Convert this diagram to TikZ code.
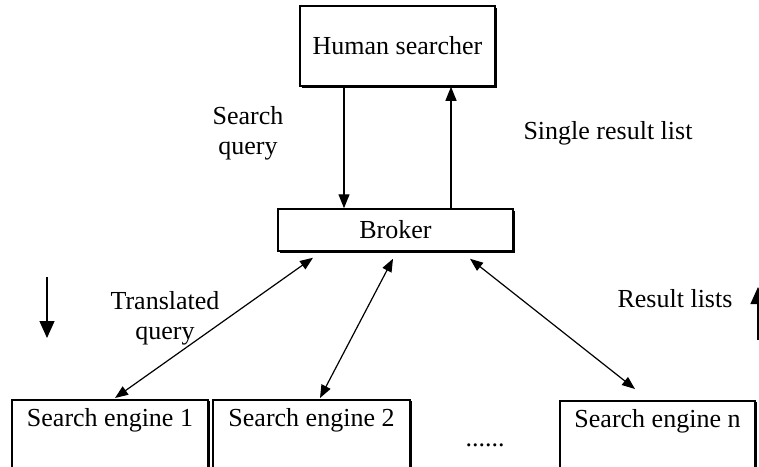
\documentclass[tikz,border=0pt]{standalone}
\usepackage{fontspec}
\setmainfont{Liberation Serif}
\usetikzlibrary{arrows.meta, calc, positioning, shadows}

\begin{document}
\begin{tikzpicture}[x=0.5pt, y=-0.5pt, font=\fontsize{13}{15}\selectfont, line width=0.6pt,
 box/.style={draw, fill=white, line width=0.75pt,
   drop shadow={shadow xshift=0.8pt, shadow yshift=-0.8pt, fill=black, opacity=1}},
 engine/.style={box, anchor=north, minimum width=98pt, inner ysep=4.5pt, text height=9pt, text depth=45pt},
 link/.style={-{Triangle[length=7pt,width=5.5pt]}},
 both/.style={{Triangle[length=6.5pt,width=5pt]}-{Triangle[length=6.5pt,width=5pt]}},
 flow/.style={-{Triangle[length=8.5pt,width=7.5pt]}}]
 \clip (0,0) rectangle (759,466);

 % boxes
 \node[box, minimum width=97.5pt, minimum height=40pt] (human) at (397.5,46) {Human searcher};
 \node[box, minimum width=117.5pt, minimum height=21pt] (broker) at (395.5,230) {Broker};
 \node[engine] (se1) at (110,399) {Search engine 1};
 \node[engine, minimum width=98.5pt] (se2) at (311.5,399) {Search engine 2};
 \node[engine, minimum width=97.5pt] (sen) at (657.5,400) {Search engine n};
 \node (dots) at (485,445) {......};

 % query and result flow
 \coordinate (qdown) at ($(human.south)+(-53.5,0)$);
 \coordinate (rup) at ($(broker.north)+(55.5,0)$);
 \draw[link] (qdown) -- (qdown |- broker.north);
 \draw[link] (rup) -- (rup |- human.south);

 \draw[both] ($(broker.south)+(-82.5,6)$) -- ($(se1.north)+(5,-1)$);
 \draw[both] ($(broker.south)+(-2.5,7)$) -- ($(se2.north)+(8.5,-1)$);
 \draw[both] ($(broker.south)+(74.5,7)$) -- ($(sen.north)+(-22.5,-11)$);

 % labels
 \node[align=center] (sq) at (248,133) {Search\\query};
 \node[anchor=base] (srl) at (608,139) {Single result list};
 \node[align=center] (tq) at (165,318) {Translated\\query};
 \node[anchor=base] (rl) at (675,307) {Result lists};

 % direction hints
 \coordinate (downtop) at (47,277);
 \coordinate (downend) at (47,338);
 \coordinate (upbot) at (758,340);
 \coordinate (uptop) at (758,287);
 \draw[flow] (downtop) -- (downend);
 \draw[flow] (upbot) -- (uptop);
\end{tikzpicture}
\end{document}
